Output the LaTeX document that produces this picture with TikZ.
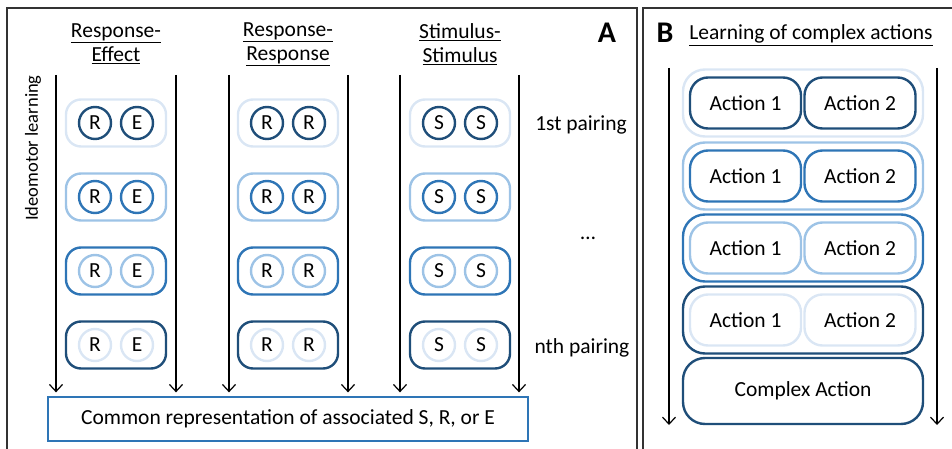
\documentclass[tikz,border=0pt]{standalone}
\usepackage{fontspec}
\setmainfont{Carlito}
\usetikzlibrary{arrows.meta}

\definecolor{paleblue}{HTML}{DAE6F4}
\definecolor{lightblue}{HTML}{9DC3E6}
\definecolor{midblue}{HTML}{2E75B6}
\definecolor{darkblue}{HTML}{1F4E79}
\definecolor{framegray}{HTML}{333333}

\tikzset{
  every node/.style={font=\fontsize{21.5}{24}\selectfont, text=black},
  frame/.style={draw=framegray, line width=1.3pt},
  pairbox/.style={draw=#1, line width=2.4pt, rounded corners=15pt,
                  minimum width=100pt, minimum height=47pt, inner sep=0pt},
  item/.style={circle, draw=#1, line width=2.4pt, minimum size=32pt, inner sep=0pt},
  outerbox/.style={draw=#1, line width=2.4pt, rounded corners=22pt,
                   minimum width=240pt, minimum height=67pt, inner sep=0pt},
  actbox/.style={draw=#1, line width=2.4pt, rounded corners=18pt,
                 minimum width=111pt, minimum height=51pt, inner sep=0pt},
  flow/.style={-{Straight Barb[length=7pt,width=13pt]}, line width=1.2pt, draw=black},
  heading/.style={align=center},
  panel/.style={font=\fontsize{30}{30}\selectfont\bfseries},
}

\begin{document}
\begin{tikzpicture}[x=1pt, y=-1pt]
\useasboundingbox (0,0) rectangle (952,449);

% panel frames (open at the bottom)
\draw[frame] (7,460) -- (7,8) -- (637,8) -- (637,460);
\draw[frame] (643,460) -- (643,8) -- (960,8);

% ---------------- panel A ----------------
\node[panel] (labA) at (607,33) {A};

\node[heading] (h1) at (116,44) {\underline{Response-}\\\underline{Effect}};
\node[heading] (h2) at (288,44) {\underline{Response-}\\\underline{Response}};
\node[heading] (h3) at (460,44) {\underline{Stimulus-}\\\underline{Stimulus}};

\node[rotate=90, font=\fontsize{18.5}{21}\selectfont] (ideo) at (33,148) {Ideomotor learning};

\node[draw=midblue, line width=1.3pt, minimum width=480pt, minimum height=44pt]
  (common) at (288,419) {Common representation of associated S, R, or E};

% pairings: column, centre x, the two items
\foreach \c/\x/\p/\q in {1/116/R/E, 2/288/R/R, 3/460/S/S} {
  \foreach \r/\y/\bc/\cc in {1/123/paleblue/darkblue, 2/197/lightblue/midblue,
                              3/271/midblue/lightblue, 4/345/darkblue/paleblue} {
    \node[pairbox=\bc] (box-\c-\r) at (\x,\y) {};
    \node[item=\cc] (p-\c-\r) at (\x-21,\y) {\p};
    \node[item=\cc] (q-\c-\r) at (\x+21,\y) {\q};
  }
}

% learning arrows of each column, down onto the common representation
\foreach \c/\l/\rr in {1/56/176, 2/229/348, 3/400/519} {
  \coordinate (tl-\c) at (\l,75);
  \coordinate (tr-\c) at (\rr,75);
  \draw[flow, shorten >=4pt] (tl-\c) -- (common.north -| tl-\c);
  \draw[flow, shorten >=4pt] (tr-\c) -- (common.north -| tr-\c);
}

\node (first) at (581,125) {1st pairing};
\node (dots) at (588,238) {\ldots};
\node (nth) at (582,348) {nth pairing};

% ---------------- panel B ----------------
\node[panel] (labB) at (665,33) {B};
\node (hB) at (811,35) {\underline{Learning of complex actions}};

\foreach \r/\y/\oc/\ic in {1/103/paleblue/darkblue, 2/176/lightblue/midblue,
                            3/248/midblue/lightblue, 4/320/darkblue/paleblue} {
  \node[outerbox=\oc] (grp-\r) at (803,\y) {};
  \node[actbox=\ic] (act1-\r) at (745.5,\y) {Action 1};
  \node[actbox=\ic] (act2-\r) at (860,\y) {Action 2};
}
\node[outerbox=darkblue, minimum height=66pt] (complex) at (803,391) {Complex Action};

\coordinate (bl-top) at (669,68);
\coordinate (bl-bot) at (669,425);
\coordinate (br-top) at (937,68);
\coordinate (br-bot) at (937,425);
\draw[flow] (bl-top) -- (bl-bot);
\draw[flow] (br-top) -- (br-bot);

\end{tikzpicture}
\end{document}
